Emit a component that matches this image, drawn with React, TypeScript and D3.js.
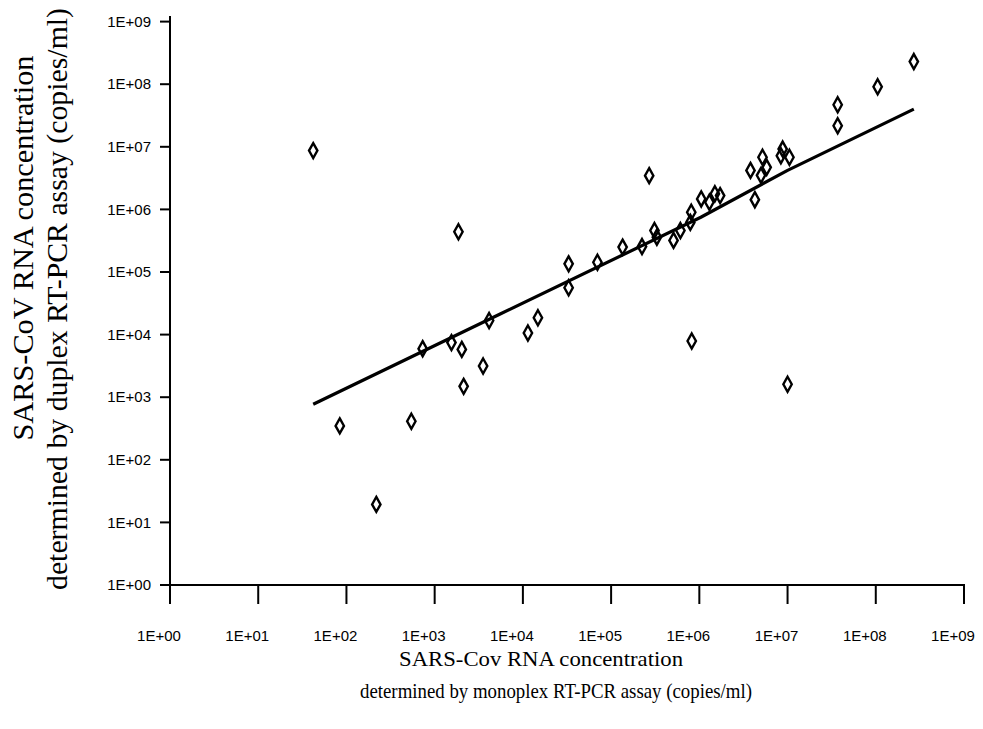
import React from "react";
import * as d3 from "d3";

const monoplex: number[] = [42, 84, 218, 544, 731, 1550, 1860, 2030, 2130, 3540, 4140, 11400, 14800, 33000, 33000, 70000, 135000, 224000, 270000, 310000, 330000, 510000, 610000, 790000, 810000, 820000, 1050000, 1300000, 1500000, 1720000, 3800000, 4260000, 5000000, 5200000, 5800000, 8400000, 8800000, 10500000, 10000000, 37000000, 37000000, 105000000, 270000000];
const duplex: number[] = [8700000, 348, 19.4, 413, 5960, 7450, 440000, 5800, 1490, 3150, 16800, 10600, 18600, 135000, 56000, 143000, 250000, 255000, 3460000, 460000, 360000, 320000, 460000, 620000, 900000, 7900, 1470000, 1300000, 1780000, 1660000, 4200000, 1430000, 3500000, 6800000, 4700000, 7200000, 9200000, 6800000, 1610, 47000000, 21700000, 91000000, 230000000];

const trendX: number[] = [42, 5600, 1040000, 10000000, 270000000];
const trendY: number[] = [771, 21500, 750000, 4200000, 40000000];

const tickExps: number[] = [0, 1, 2, 3, 4, 5, 6, 7, 8, 9];
const xTitle: string[] = ["SARS-Cov RNA concentration", "determined by monoplex RT-PCR assay (copies/ml)"];
const yTitle: string[] = ["SARS-CoV RNA concentration", "determined by duplex RT-PCR assay (copies/ml)"];

const fmt = (e: number) => `1E+${e < 10 ? "0" + e : e}`;

export default function App() {
  const W = 983, H = 729;
  const x = d3.scaleLog().domain([1, 1e9]).range([170, 964]);
  const y = d3.scaleLog().domain([1, 1e9]).range([585, 21.6]);
  const line = d3.line<number>().x((d, i) => x(trendX[i])).y((d, i) => y(trendY[i]));
  const diamond = "M0,-7.5L4.2,0L0,7.5L-4.2,0Z";
  const sans = "'Liberation Sans', Arial, sans-serif";
  const serif = "'Liberation Serif', 'Times New Roman', serif";
  return (
    <svg width={W} height={H} style={{ position: "absolute", left: 0, top: 0, background: "#fff" }}>
      <line x1={160} x2={x(1e9) + 1} y1={585} y2={585} stroke="#000" strokeWidth={2} />
      <line x1={170} x2={170} y1={16} y2={585} stroke="#000" strokeWidth={2} />
      {tickExps.map((e) => (
        <g key={"x" + e}>
          <line x1={x(10 ** e)} x2={x(10 ** e)} y1={585} y2={604} stroke="#000" strokeWidth={2} />
          <text x={x(10 ** e) - 11} y={641} textAnchor="middle" fontFamily={sans} fontSize={15} fill="#000">{fmt(e)}</text>
        </g>
      ))}
      {tickExps.map((e) => (
        <g key={"y" + e}>
          <line x1={160} x2={170} y1={y(10 ** e)} y2={y(10 ** e)} stroke="#000" strokeWidth={2} />
          <text x={151} y={y(10 ** e)} dy="0.35em" textAnchor="end" fontFamily={sans} fontSize={15} fill="#000">{fmt(e)}</text>
        </g>
      ))}
      <path d={line(trendX) || ""} fill="none" stroke="#000" strokeWidth={3.2} strokeLinecap="butt" strokeLinejoin="round" />
      {monoplex.map((v, i) => (
        <path key={"p" + i} d={diamond} transform={`translate(${x(v)},${y(duplex[i])})`} fill="none" stroke="#000" strokeWidth={2.4} />
      ))}
      <text x={541} y={666} textAnchor="middle" fontFamily={serif} fontSize={21} textLength={284} lengthAdjust="spacingAndGlyphs" fill="#000">{xTitle[0]}</text>
      <text x={556} y={698} textAnchor="middle" fontFamily={serif} fontSize={21} textLength={392} lengthAdjust="spacingAndGlyphs" fill="#000">{xTitle[1]}</text>
      <text transform={`translate(33,248) rotate(-90)`} textAnchor="middle" fontFamily={serif} fontSize={29} textLength={385} lengthAdjust="spacingAndGlyphs" fill="#000">{yTitle[0]}</text>
      <text transform={`translate(67,299) rotate(-90)`} textAnchor="middle" fontFamily={serif} fontSize={29} textLength={582} lengthAdjust="spacingAndGlyphs" fill="#000">{yTitle[1]}</text>
    </svg>
  );
}
